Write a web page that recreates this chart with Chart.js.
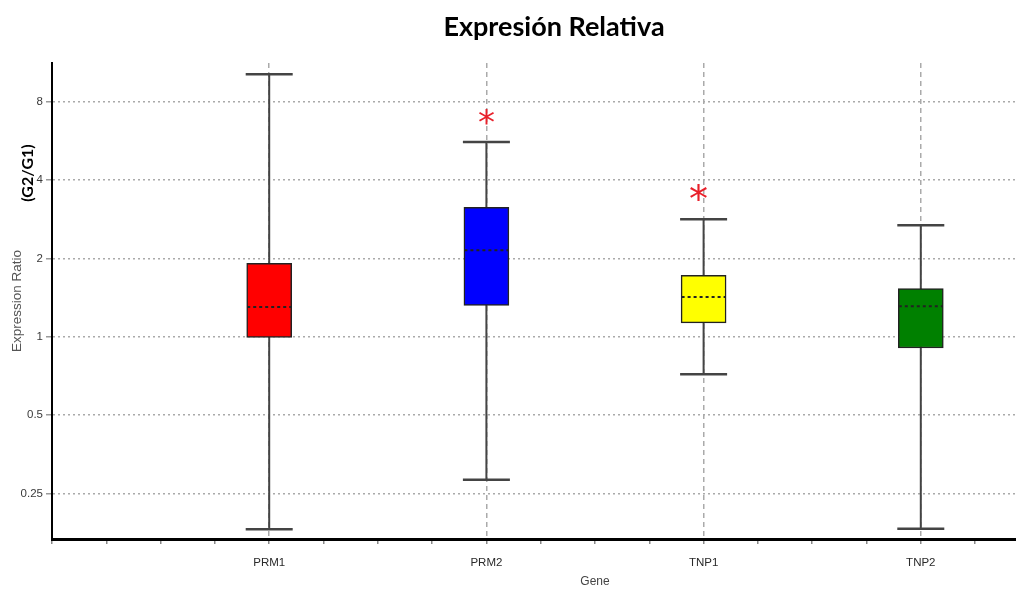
<!DOCTYPE html>
<html>
<head>
  <meta charset="utf-8">
  <title>Expresión Relativa</title>
  <script src="https://cdn.jsdelivr.net/npm/chart.js"></script>
  <style>
    html, body { margin: 0; padding: 0; background: #fff; overflow: hidden; }
    #wrap { position: relative; width: 1150px; height: 590px; }
  </style>
</head>
<body>
  <div id="wrap"><canvas id="ratioChart"></canvas></div>

  <script>
    // Box plot values (expression ratio, log2 axis)
    var genes = ['PRM1', 'PRM2', 'TNP1', 'TNP2'];
    var genePos = [1, 2, 3, 4];
    var whiskerLow = [0.182, 0.282, 0.717, 0.183];
    var q1 = [0.995, 1.32, 1.13, 0.905];
    var median = [1.30, 2.15, 1.42, 1.31];
    var q3 = [1.915, 3.14, 1.72, 1.53];
    var whiskerHigh = [10.2, 5.6, 2.83, 2.68];
    var starLevel = [null, 6.9, 3.5, null];   // significance asterisks
    var boxColors = ['#ff0000', '#0000ff', '#ffff00', '#008000'];
    var yTicks = [0.25, 0.5, 1, 2, 4, 8];
    var xTicks = [];
    for (var k = 0; k <= 20; k++) xTicks.push(k / 4);

    var boxData = genePos.map(function (x, i) {
      return { x: x, y: [q1[i], q3[i]] };
    });

    // whiskers, caps, medians and asterisks drawn from the chart scales
    var boxExtras = {
      id: 'boxExtras',
      beforeDatasetsDraw: function (chart) {
        var ctx = chart.ctx, xs = chart.scales.x, ys = chart.scales.y;
        ctx.save();
        ctx.strokeStyle = '#444';
        genePos.forEach(function (g, i) {
          var px = xs.getPixelForValue(g);
          var lo = ys.getPixelForValue(whiskerLow[i]);
          var hi = ys.getPixelForValue(whiskerHigh[i]);
          ctx.lineWidth = 2;
          ctx.beginPath();
          ctx.moveTo(px, lo); ctx.lineTo(px, hi);
          ctx.stroke();
          ctx.lineWidth = 2.5;
          ctx.beginPath();
          ctx.moveTo(px - 23.5, lo); ctx.lineTo(px + 23.5, lo);
          ctx.moveTo(px - 23.5, hi); ctx.lineTo(px + 23.5, hi);
          ctx.stroke();
        });
        ctx.restore();
      },
      afterDatasetsDraw: function (chart) {
        var ctx = chart.ctx, xs = chart.scales.x, ys = chart.scales.y;
        ctx.save();
        ctx.strokeStyle = '#222';
        ctx.lineWidth = 2;
        ctx.setLineDash([3, 3]);
        genePos.forEach(function (g, i) {
          var px = xs.getPixelForValue(g);
          var py = ys.getPixelForValue(median[i]);
          ctx.beginPath();
          ctx.moveTo(px - 22, py); ctx.lineTo(px + 22, py);
          ctx.stroke();
        });
        ctx.setLineDash([]);
        ctx.fillStyle = '#e8202a';
        ctx.textAlign = 'center';
        ctx.textBaseline = 'middle';
        genePos.forEach(function (g, i) {
          if (starLevel[i] == null) return;
          ctx.font = (i === 2 ? 38 : 34) + 'px "DejaVu Sans"';
          ctx.fillText('*', xs.getPixelForValue(g) - (i === 2 ? 5 : 0), ys.getPixelForValue(starLevel[i]) + 7);
        });
        ctx.restore();
      },
      afterDraw: function (chart) {
        var ctx = chart.ctx;
        ctx.save();
        ctx.fillStyle = '#000';
        ctx.textAlign = 'center';
        ctx.textBaseline = 'alphabetic';
        ctx.font = 'bold 27px Lato';
        ctx.fillText('Expresión Relativa', 554, 36);
        ctx.translate(28, 173);
        ctx.rotate(-Math.PI / 2);
        ctx.textBaseline = 'middle';
        ctx.font = 'bold 16px Lato';
        ctx.fillText('(G2/G1)', 0, 0);
        ctx.restore();
      }
    };

    var ctx = document.getElementById('ratioChart').getContext('2d');
    var chart = new Chart(ctx, {
      type: 'bar',
      data: {
        datasets: [{
          data: boxData,
          backgroundColor: boxColors,
          borderColor: '#222',
          borderWidth: 1.5,
          borderSkipped: false,
          barThickness: 45
        }]
      },
      options: {
        responsive: true,
        maintainAspectRatio: false,
        animation: false,
        layout: { padding: { top: 63, right: 0, left: 0, bottom: 0 } },
        plugins: {
          legend: { display: false },
          tooltip: { enabled: false }
        },
        scales: {
          x: {
            type: 'linear',
            min: 0,
            max: 5,
            offset: false,
            afterBuildTicks: function (scale) {
              scale.ticks = xTicks.map(function (v) { return { value: v }; });
            },
            afterFit: function (scale) { scale.height = 51; },
            ticks: {
              autoSkip: false,
              maxRotation: 0,
              padding: 12,
              color: '#2a2a2a',
              font: { family: 'Liberation Sans', size: 11.5 },
              callback: function (v) {
                var i = genePos.indexOf(v);
                return i >= 0 ? genes[i] : '';
              }
            },
            grid: {
              offset: false,
              color: function (c) {
                return genePos.indexOf(c.tick && c.tick.value) >= 0 ? '#aaa' : 'rgba(0,0,0,0)';
              },
              lineWidth: 1.5,
              tickColor: '#888',
              tickLength: 5
            },
            border: { display: true, color: '#000', width: 3, dash: [5, 4] },
            title: {
              display: true,
              text: 'Gene',
              color: '#444',
              font: { family: 'Liberation Sans', size: 12 },
              padding: { top: 1, bottom: 1 }
            }
          },
          y: {
            type: 'logarithmic',
            min: 0.167,
            max: 11.27,
            afterBuildTicks: function (scale) {
              scale.ticks = yTicks.map(function (v) { return { value: v }; });
            },
            afterFit: function (scale) { scale.width = 52; },
            ticks: {
              autoSkip: false,
              padding: 3,
              color: '#3a3a3a',
              font: { family: 'Liberation Sans', size: 11.5 },
              callback: function (v) { return String(v); }
            },
            grid: {
              color: '#aaa',
              lineWidth: 1.5,
              tickColor: '#999',
              tickLength: 6
            },
            border: { display: true, color: '#000', width: 2, dash: [2, 3] },
            title: {
              display: true,
              text: 'Expression Ratio',
              color: '#555',
              font: { family: 'Liberation Sans', size: 13.5 },
              padding: { top: 9, bottom: 0 }
            }
          }
        }
      },
      plugins: [boxExtras]
    });
  </script>
</body>
</html>
